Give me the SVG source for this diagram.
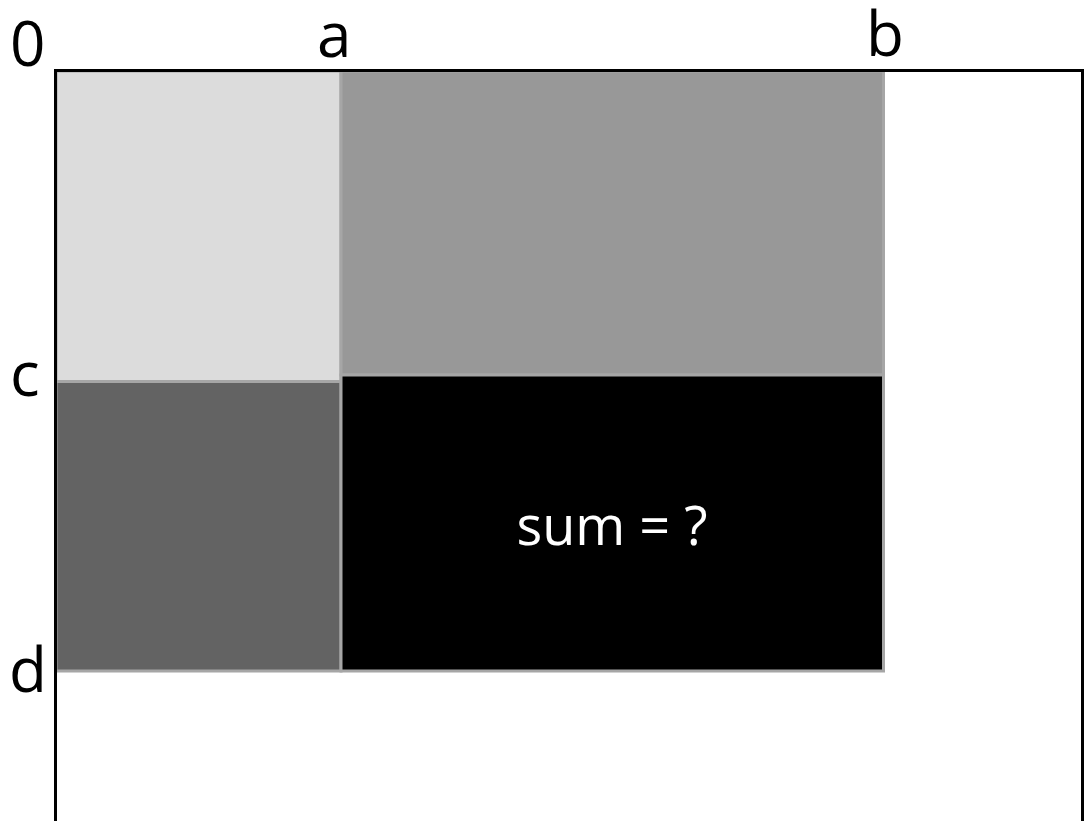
<svg xmlns="http://www.w3.org/2000/svg" width="1084" height="821" viewBox="0 0 1084 821">
  <style>
    .cell { stroke: #a6a6a6; stroke-width: 3; }
    .lbl { font-family: "Open Sans", "Liberation Sans", sans-serif; font-size: 62px; fill: #000; }
    .sum { font-family: "Open Sans", "Liberation Sans", sans-serif; font-size: 54px; fill: #fff; text-anchor: middle; }
  </style>
  <rect width="1084" height="821" fill="#fff"/>

  <!-- four regions of the summed-area table -->
  <g id="region-top-left"><rect class="cell" x="56" y="71" width="285" height="310.5" fill="#dcdcdc"/></g>
  <g id="region-top-right"><rect class="cell" x="341" y="71" width="542.5" height="304" fill="#989898"/></g>
  <g id="region-bottom-left"><rect class="cell" x="56" y="381.5" width="285" height="289.5" fill="#636363"/></g>
  <g id="region-query">
    <rect class="cell" x="341" y="375" width="542.5" height="296" fill="#000"/>
    <text class="sum" x="612" y="545">sum = ?</text>
  </g>

  <!-- image frame: origin corner and axes -->
  <g id="frame">
    <path d="M55.5,821 V70.5 H1082.5 V821" fill="none" stroke="#000" stroke-width="3"/>
  </g>

  <!-- axis labels -->
  <g id="labels">
    <text class="lbl" x="10" y="66">0</text>
    <text class="lbl" x="317" y="57">a</text>
    <text class="lbl" x="866" y="56">b</text>
    <text class="lbl" x="10" y="396">c</text>
    <text class="lbl" x="9" y="692">d</text>
  </g>
</svg>
